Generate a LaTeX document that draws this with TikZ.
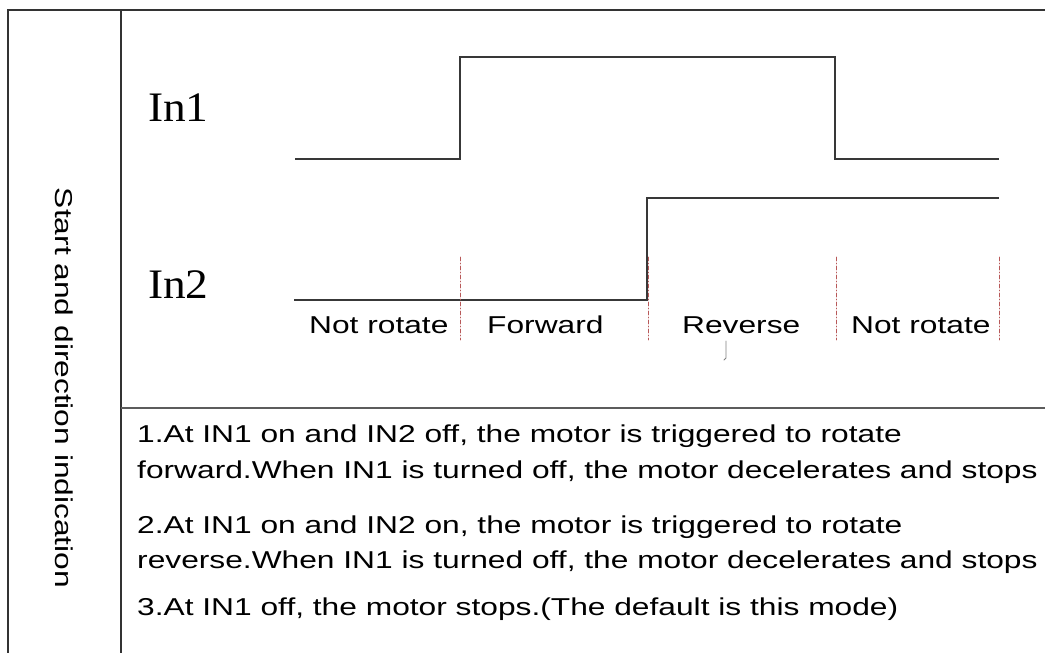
\documentclass[tikz,border=0pt]{standalone}
\usepackage{fontspec}
\setmainfont{Liberation Sans}[FakeStretch=1.3]
\newfontfamily\sigfont{Liberation Serif}[FakeStretch=1.08]
\usepackage{tikz}
\usetikzlibrary{arrows.meta}
\definecolor{gridC}{rgb}{0.2,0.2,0.2}
\definecolor{waveC}{rgb}{0.22,0.22,0.22}
\definecolor{markC}{rgb}{0.72,0.35,0.35}

\begin{document}
\begin{tikzpicture}[x=1pt, y=-1pt, line cap=round,
  txt/.style={inner sep=0pt, anchor=base west, font=\fontsize{24.4}{30}\selectfont},
  sig/.style={inner sep=0pt, anchor=base west, font=\sigfont\fontsize{42}{48}\selectfont},
  wave/.style={waveC, line width=1.7pt, line cap=butt, line join=miter},
  tick/.style={markC, line width=0.9pt, dash pattern=on 4pt off 2pt on 1pt off 2pt}]
\useasboundingbox (0,0) rectangle (1045,653);
% 表格
\draw[gridC, line width=1.2pt, line cap=butt] (8,653) -- (8,10) -- (1045,10);
\draw[gridC, line width=1.2pt, line cap=butt] (121,10) -- (121,653);
\draw[gridC!80, line width=1.4pt, line cap=butt] (121,408) -- (1045,408);
\node[inner sep=0pt, anchor=base, rotate=-90, font=\fontsize{24.4}{30}\selectfont] (title) at (55,388) {Start and direction indication};
% 信号
\node[sig] (in1) at (148,121) {In1};
\node[sig] (in2) at (148,298) {In2};
\draw[wave] (295,159) -- (460,159) -- (460,57) -- (835,57) -- (835,159) -- (999,159);
\draw[wave] (294,300) -- (647,300) -- (647,198) -- (999,198);
% 分界线
\foreach \x in {460,648,836,999}
  \draw[tick] (\x,257) -- (\x,340);
\node[txt] (stop1) at (309,333) {Not rotate};
\node[txt] (fwd) at (487,333) {Forward};
\node[txt] (rev) at (682,333) {Reverse};
\node[txt] (stop2) at (851,333) {Not rotate};
\draw[gray, line width=0.8pt] (726,341) -- (726,358) -- (724,360);
% 说明
\node[txt] (note1) at (137,442) {1.At IN1 on and IN2 off, the motor is triggered to rotate};
\node[txt] (note1b) at (137,478) {forward.When IN1 is turned off, the motor decelerates and stops};
\node[txt] (note2) at (137,533) {2.At IN1 on and IN2 on, the motor is triggered to rotate};
\node[txt] (note2b) at (137,568) {reverse.When IN1 is turned off, the motor decelerates and stops};
\node[txt] (note3) at (137,615) {3.At IN1 off, the motor stops.(The default is this mode)};
\end{tikzpicture}
\end{document}
